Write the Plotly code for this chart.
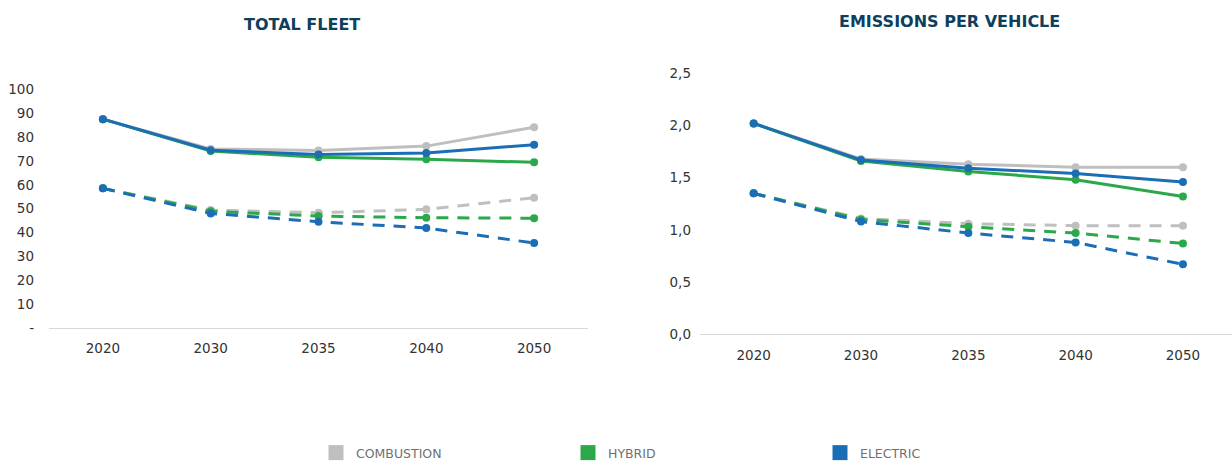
import plotly.graph_objects as go

W, H = 1232, 463

years = ["2020", "2030", "2035", "2040", "2050"]
series_names = ["COMBUSTION", "HYBRID", "ELECTRIC"]

# TOTAL FLEET
fleet_combustion = [87.5, 75.0, 74.4, 76.2, 84.1]
fleet_hybrid = [87.5, 74.1, 71.5, 70.7, 69.4]
fleet_electric = [87.5, 74.5, 72.7, 73.3, 76.8]
fleet_combustion_alt = [58.5, 49.4, 48.3, 49.7, 54.6]
fleet_hybrid_alt = [58.5, 48.9, 46.9, 46.2, 46.0]
fleet_electric_alt = [58.5, 48.0, 44.5, 41.9, 35.6]

# EMISSIONS PER VEHICLE
emis_combustion = [2.02, 1.68, 1.63, 1.60, 1.60]
emis_hybrid = [2.02, 1.66, 1.56, 1.48, 1.32]
emis_electric = [2.02, 1.67, 1.59, 1.54, 1.46]
emis_combustion_alt = [1.35, 1.11, 1.06, 1.04, 1.04]
emis_hybrid_alt = [1.35, 1.10, 1.03, 0.97, 0.87]
emis_electric_alt = [1.35, 1.08, 0.97, 0.88, 0.67]

fleet_ticks = [0, 10, 20, 30, 40, 50, 60, 70, 80, 90, 100]
fleet_ticktext = ["-", "10", "20", "30", "40", "50", "60", "70", "80", "90", "100"]
emis_ticks = [0, 0.5, 1.0, 1.5, 2.0, 2.5]
emis_ticktext = ["0,0", "0,5", "1,0", "1,5", "2,0", "2,5"]

colors = ["#BFBFBF", "#2BA84A", "#1B6EB5"]
TITLE_COLOR = "#0E3F5C"
FONT = "DejaVu Sans"
xpos = list(range(len(years)))

fig = go.Figure()

def add_set(vals_list, xa, ya, dash):
    for vals, c in zip(vals_list, colors):
        fig.add_trace(go.Scatter(
            x=xpos, y=vals, mode="lines+markers", xaxis=xa, yaxis=ya,
            line=dict(color=c, width=3, dash=dash),
            marker=dict(color=c, size=8), showlegend=False,
        ))

add_set([fleet_combustion_alt, fleet_hybrid_alt, fleet_electric_alt], "x", "y", "12px,9px")
add_set([fleet_combustion, fleet_hybrid, fleet_electric], "x", "y", "solid")
add_set([emis_combustion_alt, emis_hybrid_alt, emis_electric_alt], "x2", "y2", "12px,9px")
add_set([emis_combustion, emis_hybrid, emis_electric], "x2", "y2", "solid")

for name, c in zip(series_names, colors):
    fig.add_trace(go.Scatter(
        x=[None], y=[None], mode="markers", name=name,
        marker=dict(color=c, size=15, symbol="square"), showlegend=True,
    ))

def px_x(v):
    return v / W

def px_y(v):
    return (H - v) / H

axis_font = dict(family=FONT, size=13.5, color="#333333")

fig.update_layout(
    width=W, height=H,
    margin=dict(l=0, r=0, t=0, b=0, autoexpand=False),
    paper_bgcolor="white", plot_bgcolor="white",
    font=dict(family=FONT),
    xaxis=dict(domain=[px_x(49), px_x(588)], range=[-0.5, 4.5],
               tickvals=xpos, ticktext=years, showgrid=False, zeroline=False,
               showline=True, linecolor="#D9D9D9", linewidth=1,
               tickfont=axis_font, ticks="", ticklabelstandoff=8),
    yaxis=dict(domain=[px_y(328), px_y(89.3)], range=[0, 100],
               tickvals=fleet_ticks, ticktext=fleet_ticktext,
               showgrid=False, zeroline=False, showline=False,
               tickfont=axis_font, ticks="", ticklabelstandoff=14),
    xaxis2=dict(domain=[px_x(700), 1.0], range=[-0.5, 4.457], anchor="y2",
                tickvals=xpos, ticktext=years, showgrid=False, zeroline=False,
                showline=True, linecolor="#D9D9D9", linewidth=1,
                tickfont=axis_font, ticks="", ticklabelstandoff=8),
    yaxis2=dict(domain=[px_y(334.3), px_y(73.3)], range=[0, 2.5], anchor="x2",
                tickvals=emis_ticks, ticktext=emis_ticktext,
                showgrid=False, zeroline=False, showline=False,
                tickfont=axis_font, ticks="", ticklabelstandoff=8),
    legend=dict(orientation="h", x=px_x(316), y=px_y(453), xanchor="left", yanchor="middle",
                entrywidth=207, entrywidthmode="pixels",
                font=dict(family=FONT, size=12.5, color="#707070"),
                itemclick=False, itemdoubleclick=False),
    annotations=[
        dict(text="<b>TOTAL FLEET</b>", x=px_x(302), y=px_y(24.5), xref="paper", yref="paper",
             xanchor="center", yanchor="middle",
             showarrow=False, font=dict(family=FONT, size=16, color=TITLE_COLOR)),
        dict(text="<b>EMISSIONS PER VEHICLE</b>", x=px_x(949), y=px_y(21.5), xref="paper", yref="paper",
             xanchor="center", yanchor="middle",
             showarrow=False, font=dict(family=FONT, size=16, color=TITLE_COLOR)),
    ],
)

fig.write_html("out.html")
